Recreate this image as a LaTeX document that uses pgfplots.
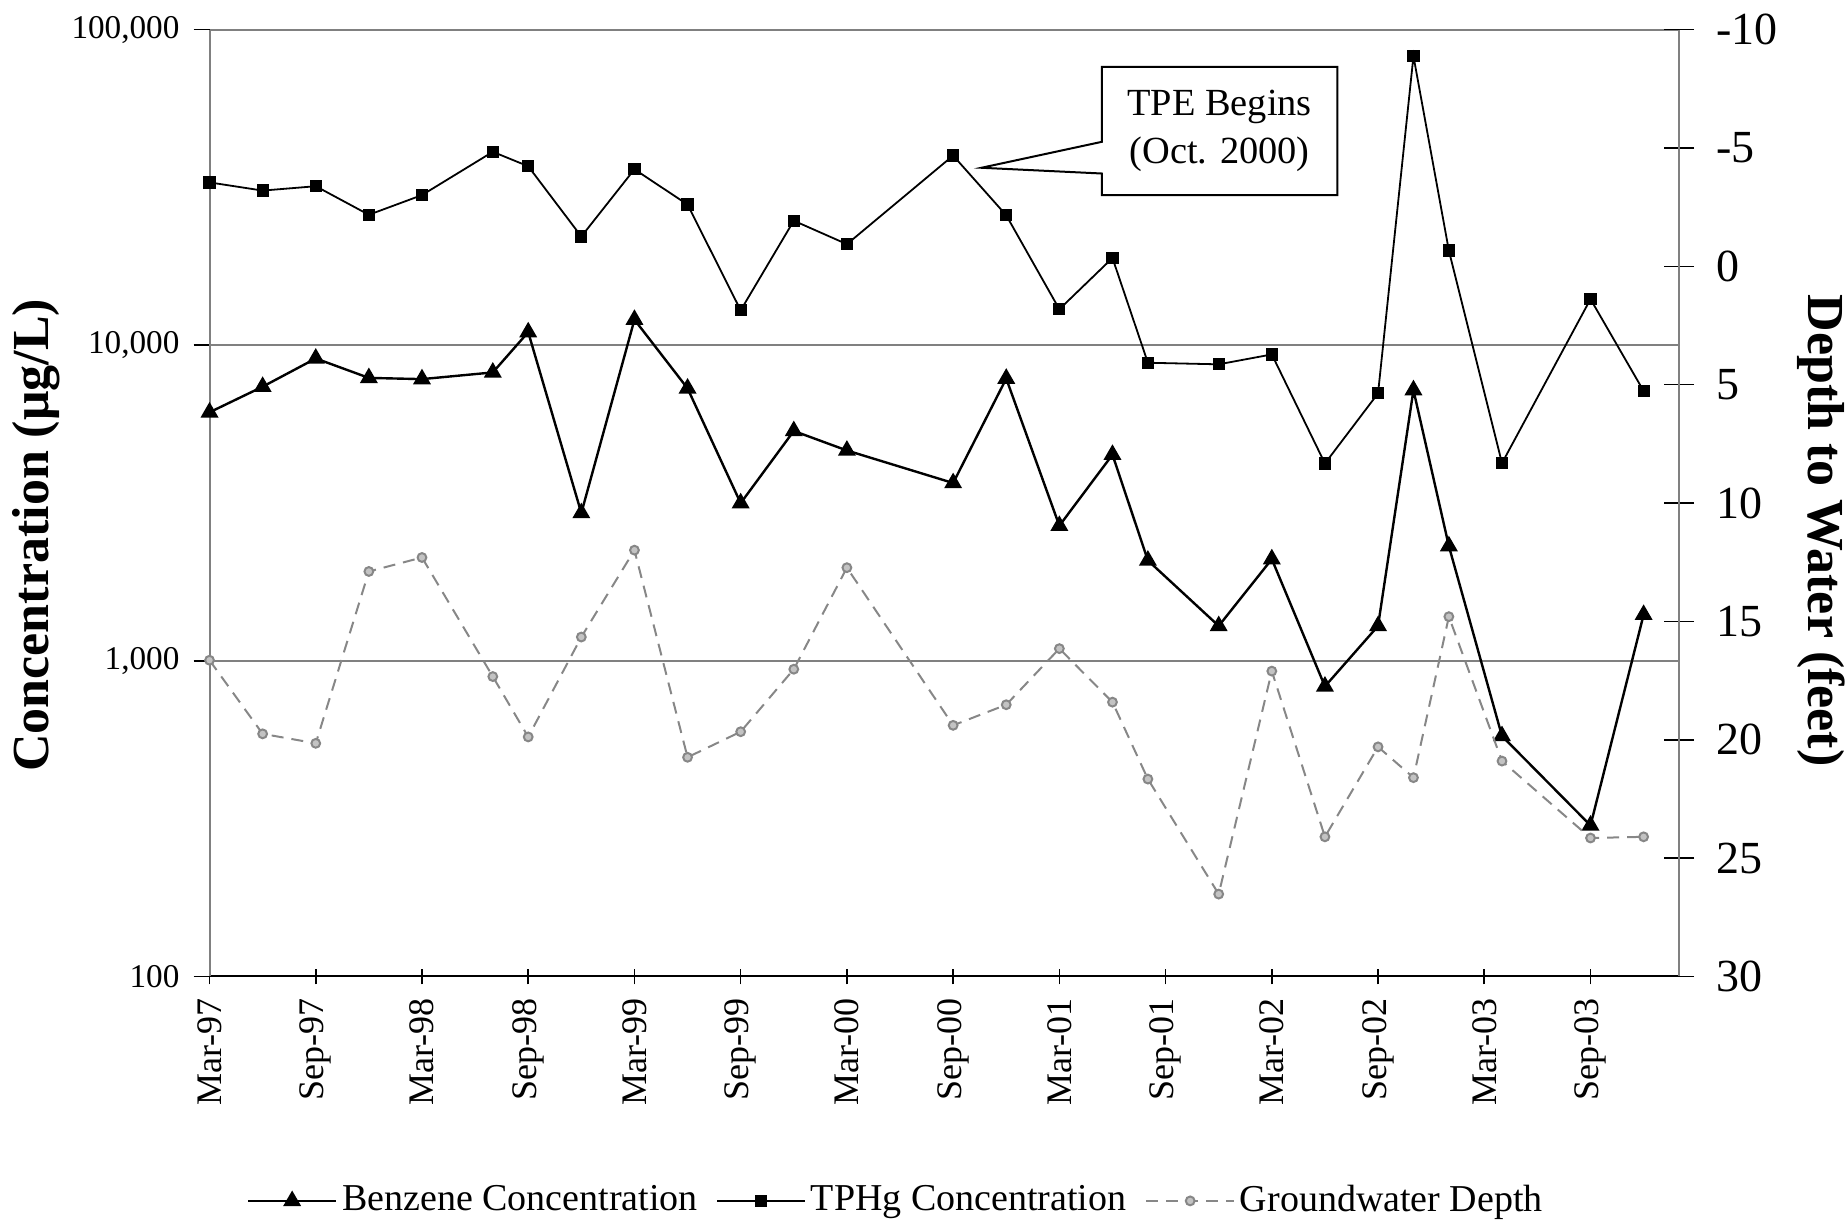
\documentclass[border=0pt]{standalone}
\usepackage{pgfplots}
\pgfplotsset{compat=1.18}
\usepackage{pgfplotstable}
\usepackage{fontspec}
\setmainfont{Liberation Serif}
\definecolor{gwgray}{RGB}{135,135,135}
\definecolor{axgray}{RGB}{128,128,128}

\pgfplotstableread{
m benz tphg gw
0 6130 32800 16.64
3 7390 30900 19.75
6 9080 31900 20.15
9 7880 25900 12.89
12 7810 29900 12.30
16 8200 41000 17.33
18 11000 36900 19.88
21 2940 22100 15.66
24 12050 36100 11.99
27 7300 27900 20.74
30 3160 12900 19.66
33 5350 24800 17.02
36 4640 20900 12.73
42 3660 39900 19.39
45 7840 25800 18.52
48 2680 13000 16.15
51 4500 18900 18.41
53 2080 8800 21.66
57 1290 8700 26.52
60 2100 9350 17.10
63 830 4220 24.10
66 1290 7040 20.30
68 7210 82400 21.60
70 2310 19950 14.80
73 578 4230 20.90
78 301 14000 24.15
81 1400 7160 24.10
}\data

\begin{document}
\begin{tikzpicture}
\useasboundingbox (-52.4pt,-61.5pt) rectangle (409pt,244.2pt);
\begin{axis}[
  scale only axis, width=367.5pt, height=236.8pt,
  at={(0,0)}, anchor=south west,
  xmin=0, xmax=83,
  ymode=log, ymin=100, ymax=100000,
  axis x line*=bottom, axis y line*=left,
  x axis line style={black, line width=0.5pt},
  y axis line style={axgray, line width=0.5pt},
  xtick={0,6,...,78},
  xticklabels={Mar-97,Sep-97,Mar-98,Sep-98,Mar-99,Sep-99,Mar-00,Sep-00,Mar-01,Sep-01,Mar-02,Sep-02,Mar-03,Sep-03},
  xticklabel style={rotate=90, anchor=east, font=\fontsize{9}{9}\selectfont},
  xtick align=center,
  ytick={100,1000,10000,100000},
  yticklabels={100,{1,000},{10,000},{100,000}},
  yticklabel style={font=\fontsize{8.3}{8.3}\selectfont},
  ytick align=outside,
  yminorticks=false, xminorticks=false,
  major tick length=4pt,
  tick style={black, line width=0.4pt},
  ymajorgrids, grid style={axgray, line width=0.5pt},
  ylabel={Concentration (μg/L)},
  ylabel style={font=\bfseries\fontsize{13}{13}\selectfont, at={(axis description cs:-0.118,0.466)}, anchor=center},
  legend columns=3,
  legend style={at={(axis description cs:0.468,-0.237)}, anchor=center, draw=none, fill=none,
    font=\fontsize{9.5}{9.5}\selectfont,
    nodes={inner xsep=1.2pt},
    /tikz/every even column/.append style={column sep=3.5pt}},
  legend image code/.code={\draw[#1, mark repeat=2, mark phase=2] plot coordinates {(0pt,0pt) (11pt,0pt) (22pt,0pt)};},
]
\addplot[black, line width=0.6pt, mark=triangle*, mark size=2pt, mark options={solid}] table[x=m, y=benz] {\data};
\addlegendentry{Benzene Concentration}
\addplot[black, line width=0.45pt, mark=square*, mark size=1.3pt, mark options={solid}] table[x=m, y=tphg] {\data};
\addlegendentry{TPHg Concentration}
\addlegendimage{gwgray, line width=0.5pt, dash pattern=on 3pt off 2pt, mark=*, mark size=1.1pt, mark options={solid, fill=gwgray!50, draw=gwgray}}
\addlegendentry{Groundwater Depth}
\draw[black, line width=0.5pt, fill=white]
  (axis cs:50.4,76200) -- (axis cs:63.7,76200) -- (axis cs:63.7,29900) -- (axis cs:50.4,29900)
  -- (axis cs:50.4,35000) -- (axis cs:43.6,36500) -- (axis cs:50.4,44100) -- cycle;
\node[align=center, font=\fontsize{9.6}{12}\selectfont] at (axis cs:57.05,47750) {TPE Begins\\(Oct. 2000)};
\end{axis}
\begin{axis}[
  scale only axis, width=367.5pt, height=236.8pt,
  at={(0,0)}, anchor=south west,
  xmin=0, xmax=83,
  ymin=-10, ymax=30, y dir=reverse,
  axis x line=none, axis y line*=right,
  y axis line style={axgray, line width=0.5pt},
  ytick={-10,-5,0,5,10,15,20,25,30},
  yticklabels={-10,-5,0,5,10,15,20,25,30},
  yticklabel style={anchor=west, font=\fontsize{11.5}{11.5}\selectfont, xshift=2pt},
  ytick align=center,
  major tick length=7.5pt,
  tick style={black, line width=0.4pt},
  yminorticks=false,
  ylabel={Depth to Water (feet)},
  ylabel style={font=\bfseries\fontsize{13}{13}\selectfont, at={(axis description cs:1.097,0.471)}, anchor=center, rotate=180},
]
\addplot[gwgray, line width=0.5pt, dash pattern=on 3pt off 2pt, mark=*, mark size=1.1pt, mark options={solid, fill=gwgray!50, draw=gwgray}] table[x=m, y=gw] {\data};
\end{axis}
\end{tikzpicture}
\end{document}
